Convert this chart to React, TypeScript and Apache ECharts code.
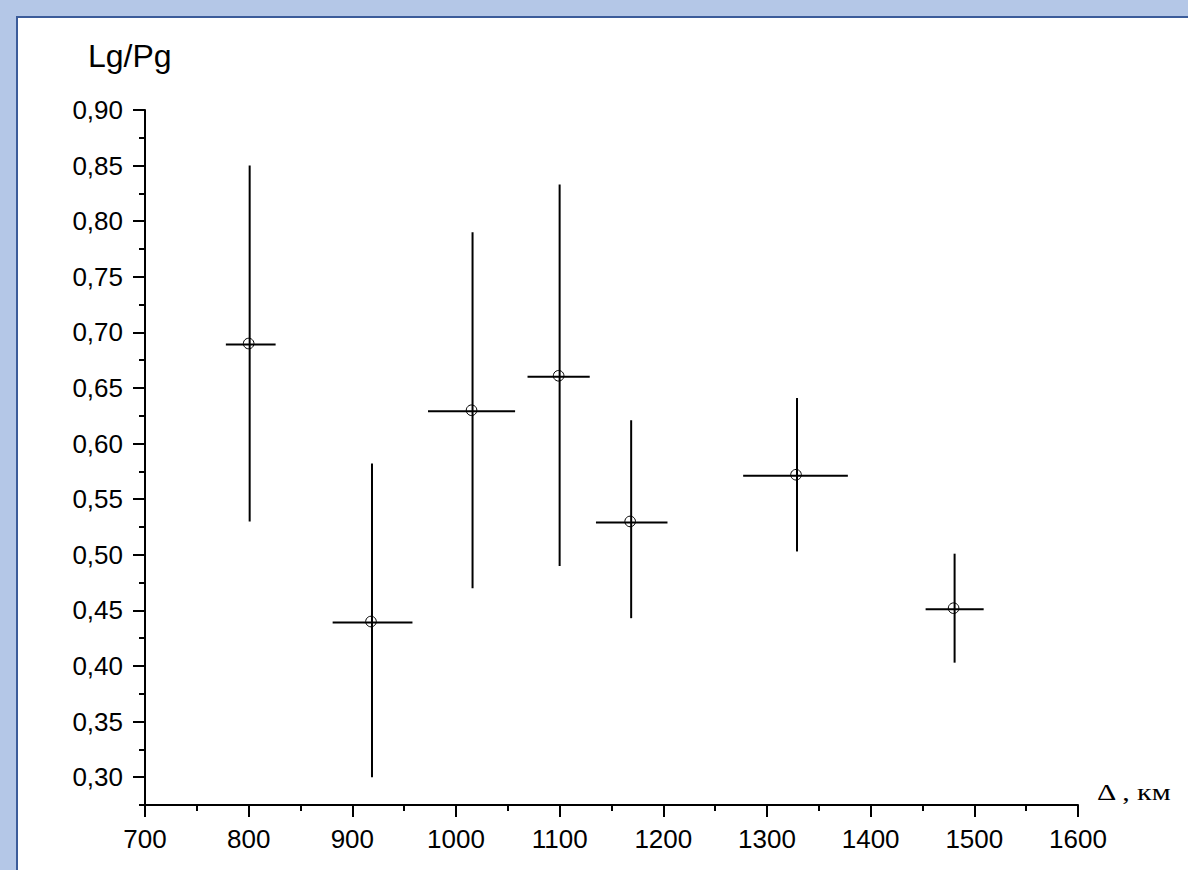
import React, { useEffect, useRef } from "react";
import * as echarts from "echarts";

// Data
const xValues = [800, 918, 1015, 1099, 1168, 1328, 1480];
const yValues = [0.69, 0.44, 0.63, 0.661, 0.53, 0.572, 0.452];
const xLow = [778, 881, 973, 1069, 1135, 1277, 1453];
const xHigh = [826, 958, 1057, 1129, 1204, 1378, 1509];
const yLow = [0.53, 0.3, 0.47, 0.49, 0.443, 0.503, 0.403];
const yHigh = [0.85, 0.582, 0.79, 0.833, 0.621, 0.641, 0.501];

const xTickMin = 700;
const xTickMax = 1600;
const xTickStep = 100;
const yLabelMin = 0.3;
const yAxisMin = 0.275;
const yAxisMax = 0.9;
const yLabelStep = 0.05;
const yMinorStep = 0.025;

const yTitle = "Lg/Pg";
const xTitle = "Δ , км";

export default function App() {
  const ref = useRef<HTMLDivElement>(null);

  useEffect(() => {
    if (!ref.current) return;
    const chart = echarts.init(ref.current, null, { renderer: "svg" });
    const data = xValues.map((x, i) => [x, yValues[i], xLow[i], xHigh[i], yLow[i], yHigh[i]]);
    const black = "#000";
    const font = "'Liberation Sans', Arial, sans-serif";

    chart.setOption({
      animation: false,
      grid: [
        { left: 145, right: 110, top: 110, bottom: 65 },
        { left: 145, right: 110, top: 110, bottom: 92.8 },
      ],
      xAxis: [
        {
          gridIndex: 0,
          type: "value",
          min: xTickMin,
          max: xTickMax,
          interval: xTickStep,
          axisLine: { show: true, onZero: false, lineStyle: { color: black, width: 2 } },
          axisTick: { show: true, length: 12, lineStyle: { color: black, width: 2 } },
          minorTick: { show: true, splitNumber: 2, length: 6, lineStyle: { color: black, width: 2 } },
          splitLine: { show: false },
          minorSplitLine: { show: false },
          axisLabel: {
            color: black,
            fontSize: 26,
            fontFamily: font,
            margin: 21,
            formatter: (v: number) => String(v),
          },
        },
        { gridIndex: 1, type: "value", min: xTickMin, max: xTickMax, show: false },
      ],
      yAxis: [
        {
          gridIndex: 0,
          type: "value",
          min: yAxisMin,
          max: yAxisMax,
          interval: yMinorStep,
          axisLine: { show: true, onZero: false, lineStyle: { color: black, width: 2 } },
          axisTick: { show: true, length: 6, lineStyle: { color: black, width: 2 } },
          axisLabel: { show: false },
          splitLine: { show: false },
        },
        {
          gridIndex: 1,
          type: "value",
          min: yLabelMin,
          max: yAxisMax,
          interval: yLabelStep,
          axisLine: { show: false },
          axisTick: { show: true, length: 12, lineStyle: { color: black, width: 2 } },
          axisLabel: {
            color: black,
            fontSize: 26,
            fontFamily: font,
            margin: 22,
            formatter: (v: number) => v.toFixed(2).replace(".", ","),
          },
          splitLine: { show: false },
        },
      ],
      graphic: [
        {
          type: "text",
          x: 88,
          y: 56,
          style: { text: yTitle, font: `32px ${font}`, fill: black, verticalAlign: "middle" },
        },
        {
          type: "text",
          x: 1097,
          y: 792,
          scaleX: 1.25,
          style: {
            text: xTitle,
            font: `24px 'Liberation Serif', 'Times New Roman', serif`,
            fill: black,
            verticalAlign: "middle",
          },
        },
      ],
      series: [
        {
          type: "custom",
          xAxisIndex: 0,
          yAxisIndex: 0,
          data,
          encode: { x: 0, y: 1 },
          clip: false,
          renderItem: (params: any, api: any) => {
            const c = api.coord([api.value(0), api.value(1)]);
            const xl = api.coord([api.value(2), api.value(1)]);
            const xh = api.coord([api.value(3), api.value(1)]);
            const yl = api.coord([api.value(0), api.value(4)]);
            const yh = api.coord([api.value(0), api.value(5)]);
            const st = { stroke: black, lineWidth: 2 };
            return {
              type: "group",
              children: [
                { type: "line", shape: { x1: yl[0] + 1, y1: yl[1], x2: yh[0] + 1, y2: yh[1] }, style: st },
                { type: "line", shape: { x1: xl[0], y1: xl[1] + 1, x2: xh[0], y2: xh[1] + 1 }, style: st },
                {
                  type: "circle",
                  shape: { cx: c[0], cy: c[1], r: 5.3 },
                  style: { fill: "none", stroke: black, lineWidth: 1 },
                },
              ],
            };
          },
        },
      ],
    });
    return () => chart.dispose();
  }, []);

  return (
    <div
      style={{
        position: "fixed",
        left: 0,
        top: 0,
        width: 1188,
        height: 870,
        background: "#b4c7e7",
        overflow: "hidden",
      }}
    >
      <div
        style={{
          position: "absolute",
          left: 16,
          top: 16,
          width: 1200,
          height: 880,
          background: "#ffffff",
          borderLeft: "2px solid #3b5c9a",
          borderTop: "2px solid #3b5c9a",
        }}
      />
      <div ref={ref} style={{ position: "absolute", left: 0, top: 0, width: 1188, height: 870 }} />
    </div>
  );
}
